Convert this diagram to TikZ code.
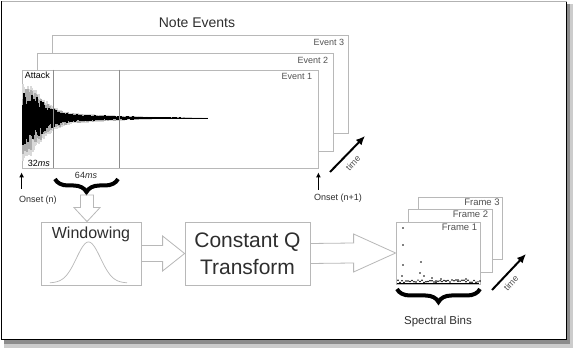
\documentclass[tikz,border=0pt]{standalone}
\usepackage{fontspec}
\setmainfont{Liberation Sans}
\usepackage{tikz}
\usetikzlibrary{shapes,arrows,positioning,calc,arrows.meta,decorations.pathreplacing}

\definecolor{framegray}{gray}{0.72}
\definecolor{linegray}{gray}{0.55}
\definecolor{textgray}{gray}{0.18}
\definecolor{taggray}{gray}{0.32}

\begin{document}
\begin{tikzpicture}[x=1pt, y=-1pt,
        panel/.style={rectangle, draw=framegray, fill=white, line width=0.8pt, inner sep=0pt},
        evbox/.style={panel, minimum width=296pt, minimum height=98pt},
        frbox/.style={panel, minimum width=84pt, minimum height=62pt},
        stagebox/.style={panel, minimum height=63pt, align=center, text=textgray},
        tag/.style={font=\fontsize{9}{10}\selectfont, text=taggray, inner sep=0pt},
        heading/.style={font=\fontsize{14}{16}\selectfont, text=textgray, inner sep=0pt},
        hollow/.style={draw=framegray, line width=0.8pt, line join=miter},
        msline/.style={draw=linegray, line width=0.9pt},
        bracket/.style={decorate, decoration={brace, mirror, amplitude=13pt, aspect=0.5}, line width=4pt},
        arrow/.style={-{Latex[length=5pt,width=5pt]}, line width=1.1pt},
        timearrow/.style={-{Latex[length=9pt,width=8pt]}, line width=2pt},
      ]
      \useasboundingbox (0,0) rectangle (574,350);
      % Frame with shadow
      \fill[black!20] (4,4) rectangle (573,348);
      \fill[black!45] (4,4) rectangle (570,344);
      \draw[fill=white, line width=1.6pt] (1.5,1.5) rectangle (566.5,339.5);
      \draw[gray!60, line width=1pt] (1.5,1.5) -- (566.5,1.5);
      % Note events
      \node [heading] (title) at (197,23) {Note Events};
      \node [evbox] (ev3) at (200,84) {};
      \node [evbox] (ev2) at (185,102.5) {};
      \node [evbox] (ev1) at (170,119) {};
      \node [tag, anchor=north east] (ev3lbl) at ($(ev3.north east)+(-4,4)$) {Event 3};
      \node [tag, anchor=north east] (ev2lbl) at ($(ev2.north east)+(-5,4)$) {Event 2};
      \node [tag, anchor=north east] (ev1lbl) at ($(ev1.north east)+(-6,4)$) {Event 1};
      % Waveform
      \pgfmathsetseed{11}
      \foreach \i in {0,...,184} {
        \pgfmathsetmacro{\amp}{(31*exp(-(\i/24)^2)+12*exp(-\i/70))*(1-(\i/186)^3)}
        \pgfmathsetmacro{\up}{0.85*\amp*(0.75+0.25*rnd)+0.3}
        \pgfmathsetmacro{\dn}{\amp*(0.75+0.25*rnd)+0.3}
        \draw[gray!30, line width=1.05pt] (23+\i,118-\up) -- (23+\i,118+\dn);
      }
      \foreach \i in {0,...,184} {
        \pgfmathsetmacro{\amp}{(25*exp(-(\i/24)^2)+10.5*exp(-\i/70))*(1-(\i/186)^3)}
        \pgfmathsetmacro{\up}{0.9*\amp*(0.6+0.4*rnd)+0.2}
        \pgfmathsetmacro{\dn}{\amp*(0.6+0.4*rnd)+0.2}
        \draw[gray!65, line width=1.05pt] (23+\i,118-\up) -- (23+\i,118+\dn);
      }
      \foreach \i in {0,...,184} {
        \pgfmathsetmacro{\amp}{(19*exp(-(\i/24)^2)+8.5*exp(-\i/70))*(1-(\i/186)^3)}
        \pgfmathsetmacro{\up}{\amp*(0.45+0.55*rnd)+0.2}
        \pgfmathsetmacro{\dn}{\amp*(0.45+0.55*rnd)+0.2}
        \draw[black, line width=1.05pt] (23+\i,118-\up) -- (23+\i,118+\dn);
      }
      \draw [msline] ($(ev1.north west)+(32,0)$) -- ($(ev1.south west)+(32,0)$);
      \draw [msline] ($(ev1.north west)+(98,0)$) -- ($(ev1.south west)+(98,0)$);
      \node [tag, text=black, anchor=north west] (attack) at ($(ev1.north west)+(3,2.5)$) {Attack};
      \node [tag, text=black, anchor=south west] (hop) at ($(ev1.south west)+(6,-2)$) {32\textit{ms}};
      % Onsets
      \node [tag, text=textgray] (onset1) at (38,200) {Onset (n)};
      \node [tag, text=textgray] (onset2) at (338,198) {Onset (n+1)};
      \draw [arrow, shorten <=7pt, shorten >=4pt] (onset1.north -| ev1.south west) -- (ev1.south west);
      \draw [arrow, shorten <=4pt, shorten >=4pt] (onset2.north -| ev1.south east) -- (ev1.south east);
      \coordinate (evt0) at (330,172);
      \coordinate (evt1) at (365,136);
      \draw [timearrow] (evt0) -- (evt1);
      \node [tag, rotate=47] (evtime) at (353,163) {time};
      % Analysis window
      \coordinate (w0) at (55,179);
      \coordinate (w1) at (118,179);
      \draw [bracket] (w0) -- (w1);
      \node [tag, text=textgray] (winlen) at (86,175) {64\textit{ms}};
      \coordinate (wtip) at (87,195);
      % Windowing and CQT
      \node [stagebox, minimum width=100pt] (win) at (91,253.5) {};
      \node [font=\fontsize{16}{18}\selectfont, text=textgray, inner sep=0pt, below=5.5pt of win.north] (wintxt) {Windowing};
      \draw [framegray, line width=0.7pt, domain=50:127, samples=60, smooth]
        plot (\x, {283-41*exp(-((\x-88.5)/17)^2)});
      \node [stagebox, minimum width=125pt, font=\fontsize{21}{27}\selectfont] (cqt) at (247.5,253.5) {Constant Q\\Transform};
      % Hollow arrows
      \draw [hollow] ($(wtip)+(-6.5,0)$) -- ($(wtip |- win.north)+(-6.5,-14)$) -- ($(wtip |- win.north)+(-13,-14)$)
        -- (wtip |- win.north) -- ($(wtip |- win.north)+(13,-14)$) -- ($(wtip |- win.north)+(6.5,-14)$) -- ($(wtip)+(6.5,0)$) -- cycle;
      \draw [hollow] ($(win.east)+(0,-8)$) -- ($(cqt.west)+(-22,-8)$) -- ($(cqt.west)+(-22,-17.5)$)
        -- (cqt.west) -- ($(cqt.west)+(-22,17.5)$) -- ($(cqt.west)+(-22,8)$) -- ($(win.east)+(0,8)$);
      % Spectral frames
      \node [frbox, minimum height=62pt] (fr3) at (460.5,228) {};
      \node [frbox, minimum height=63pt] (fr2) at (450,240.5) {};
      \node [frbox] (fr1) at (438,253) {};
      \node [tag, font=\fontsize{9.5}{10}\selectfont, anchor=north east] (fr3lbl) at ($(fr3.north east)+(-3,2.5)$) {Frame 3};
      \node [tag, font=\fontsize{9.5}{10}\selectfont, anchor=north east] (fr2lbl) at ($(fr2.north east)+(-4,2.5)$) {Frame 2};
      \node [tag, font=\fontsize{9.5}{10}\selectfont, anchor=north east] (fr1lbl) at ($(fr1.north east)+(-3,2.5)$) {Frame 1};
      \draw [hollow] ($(cqt.east)+(0,-10)$) -- ($(fr1.west)+(-42,-10)$) -- ($(fr1.west)+(-42,-19)$)
        -- (fr1.west) -- ($(fr1.west)+(-42,19)$) -- ($(fr1.west)+(-42,10)$) -- ($(cqt.east)+(0,10)$);
      % Spectrum
      \foreach \p in {(403,228),(403,245),(403,265),(421,262),(420,273),(424,276),(432,278),(441,279),(436,281),(402,276),(446,281),(458,280),(466,279)}
        \fill [black] \p circle (0.8);
      \pgfmathsetseed{5}
      \foreach \i in {0,...,41} {
        \fill [black] ({398+2*\i},{282.6-2.6*rnd}) circle (0.85);
      }
      \draw [black, line width=0.9pt] (fr1.south west) ++(1,-1.2) -- ($(fr1.south east)+(-1,-1.2)$);
      \coordinate (s0) at (397,289);
      \coordinate (s1) at (480,289);
      \draw [bracket] (s0) -- (s1);
      \node [tag, font=\fontsize{11.5}{13}\selectfont, text=textgray] (bins) at (438,322) {Spectral Bins};
      \coordinate (frt0) at (492,290);
      \coordinate (frt1) at (526,254);
      \draw [timearrow] (frt0) -- (frt1);
      \node [tag, rotate=47] (frtime) at (511,283) {time};
    \end{tikzpicture}
\end{document}
